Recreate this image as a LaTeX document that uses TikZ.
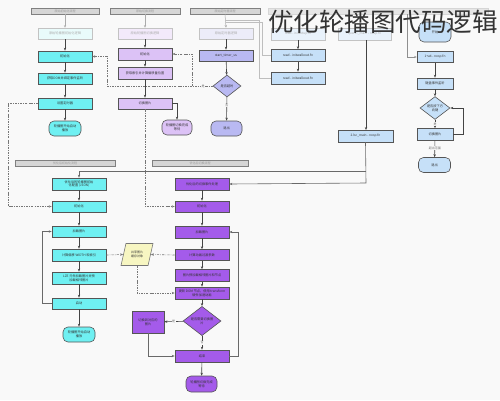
\documentclass[tikz,border=0pt]{standalone}
\usepackage{fontspec}
\setmainfont{Noto Sans CJK SC}
\usetikzlibrary{arrows.meta,shapes.geometric}
\definecolor{bgc}{HTML}{F9F9F9}
\definecolor{bdr}{HTML}{555555}
\definecolor{txt}{HTML}{333333}
\definecolor{lnc}{HTML}{444444}
\definecolor{dshc}{HTML}{777777}
\definecolor{cyanA}{HTML}{6FF0F2}
\definecolor{cyanF}{HTML}{E9FBFB}
\definecolor{purA}{HTML}{DCC2F6}
\definecolor{purF}{HTML}{F3EAFB}
\definecolor{perA}{HTML}{B9B9F2}
\definecolor{perF}{HTML}{ECECF9}
\definecolor{bluA}{HTML}{C6E0F8}
\definecolor{bluF}{HTML}{E9F2FB}
\definecolor{vioA}{HTML}{A45BEA}
\definecolor{yelA}{HTML}{F7F6C2}
\definecolor{hdr}{HTML}{D6D6D6}
\tikzset{
  base/.style={draw=bdr, line width=0.6pt, font=\fontsize{3.2}{3.9}\selectfont, text=txt, align=center, inner sep=0.5pt},
  bx/.style={base, rectangle, minimum width=54pt, minimum height=11pt},
  fd/.style={bx, draw=bdr!35, text=txt!40},
  term/.style={base, rectangle, rounded corners=5pt, minimum width=32pt, minimum height=15pt},
  dia/.style={base, diamond, inner sep=0pt},
  hbar/.style={draw=hdr!60!black, fill=hdr, line width=0.5pt, font=\fontsize{3}{3.5}\selectfont, text=txt!50, inner sep=0pt},
  arr/.style={-{Stealth[length=3pt,width=2.4pt]}, draw=lnc, line width=0.6pt},
  garr/.style={-{Stealth[length=2.6pt,width=2.2pt]}, draw=lnc!45, line width=0.5pt},
  gln/.style={draw=lnc!35, line width=0.5pt},
  dsh/.style={arr, draw=dshc, dash pattern=on 2.2pt off 1.2pt on 0.6pt off 1.2pt},
  lbl/.style={fill=bgc, inner sep=0.4pt, font=\fontsize{3}{3.5}\selectfont, text=txt!70},
}
\begin{document}
\begin{tikzpicture}[x=1pt,y=-1pt]
\useasboundingbox (0,0) rectangle (500,400);
\fill[bgc] (0,0) rectangle (500,400);

% top header bars
\node[hbar, minimum width=68pt, minimum height=6pt] (h1) at (65,11) {原始初始化流程};
\node[hbar, minimum width=70pt, minimum height=6pt] (h2) at (145,11) {原始切换流程};
\node[hbar, minimum width=70pt, minimum height=6pt] (h3) at (225,11) {原始定时器流程};
\node[hbar, minimum width=220pt, minimum height=6pt, fill=hdr!60, draw=hdr] (h4) at (378,11) {};

% ---------- column 1 (upper) ----------
\node[fd, fill=cyanF] (u1a) at (65,33.5) {原始轮播图初始化逻辑};
\node[bx, fill=cyanA] (u1b) at (65,56.5) {初始化};
\node[bx, fill=cyanA] (u1c) at (65,78.5) {获取DOM并绑定事件监听};
\node[bx, fill=cyanA] (u1d) at (65,103.5) {设置定时器};
\node[term, fill=cyanA] (u1e) at (65,128.5) {轮播图开始自动\\播放};
\draw[garr] (h1.south) -- (u1a.north);
\draw[arr] (u1a) -- (u1b);
\draw[arr] (u1b) -- (u1c);
\draw[arr] (u1c) -- (u1d);
\draw[arr] (u1d) -- (u1e);

% ---------- column 2 (upper) ----------
\node[fd, fill=purF] (u2a) at (145,33.5) {原始轮播图切换逻辑};
\node[bx, fill=purA, minimum height=12pt] (u2b) at (145,54) {初始化};
\node[bx, fill=purA, minimum height=12pt] (u2c) at (145,73) {获取索引并计算偏移量位置};
\node[bx, fill=purA] (u2d) at (145,103.5) {切换图片};
\node[term, fill=purA, minimum width=30pt] (u2e) at (177,127.5) {轮播图切换完成\\等待};
\draw[garr] (h2.south) -- (u2a.north);
\draw[arr] (u2a) -- (u2b);
\draw[arr] (u2b) -- (u2c);
\draw[arr] (u2c) -- (u2d);
\draw[arr] (u2d.east) -| (u2e.north);

% ---------- column 3 (upper) ----------
\node[fd, fill=perF] (u3a) at (226,33.5) {原始定时器逻辑};
\node[bx, fill=perA] (u3b) at (226,55.5) {start\_timer\_us};
\node[dia, fill=perA, minimum width=28pt, minimum height=22pt] (u3d) at (227,86) {是否超时};
\node[term, fill=perA, minimum width=31pt] (u3e) at (226.5,128.5) {退出};
\draw[garr] (h3.south) -- (u3a.north);
\draw[arr] (u3a) -- (u3b);
\draw[arr] (u3b) -- (u3d);
\draw[arr] (u3d) -- node[lbl, pos=0.35] {否} (u3e);
\coordinate (j1) at (192,86);
\draw[dsh] (u3d.west) -- (107,86) |- (u1b.east);
\draw[dsh] (j1) |- (u2b.east);
\node[lbl] at (203,86) {是};

% ---------- column 4 (read nodes) ----------
\node[fd, fill=bluF, minimum height=12pt] (u4a) at (298,34) {read - initsetup.fn};
\node[bx, fill=bluA, minimum height=12pt] (u4b) at (298,55.5) {read - initwalkout.fn};
\node[bx, fill=bluA, minimum height=12pt] (u4c) at (298,78) {read - initwalkout.fn};
\draw[arr] (u4a) -- (u4b);
\draw[arr] (u4b) -- (u4c);
\coordinate (g0) at (226,20);
\draw[gln] (g0) -- (259,20) |- (u4c.west);
\draw[gln] (262,22) |- (u4b.west);
\draw[gln] (226,22) -- (262,22);

% ---------- column 6 (main) ----------
\node[fd, fill=bluF, minimum width=53pt, minimum height=12pt] (u6a) at (364.5,34) {quartT\_main - nosp.fn};
\node[bx, fill=bluA, minimum width=55pt, minimum height=12pt] (n6) at (365.5,136) {2.lsc\_main - nosp.fn};
\draw[arr] (366,40) -- (366,130);

% ---------- column 5 (right) ----------
\node[term, fill=bluA, minimum width=32pt, minimum height=20pt] (u5a) at (435,32) {开始};
\node[bx, fill=bluA, minimum width=36pt] (u5b) at (435,57) {1+a4 - nosp.fn};
\node[bx, fill=bluA, minimum width=36pt] (u5c) at (435,83.5) {键盘事件监听};
\node[dia, fill=bluA, minimum width=30pt, minimum height=22pt] (u5d) at (435,108) {是否按下方\\向键};
\node[bx, fill=bluA, minimum width=36pt, minimum height=12pt] (u5e) at (435,134.5) {切换图片};
\node[term, fill=bluA, minimum width=32pt] (u5f) at (434.5,165) {退出};
\draw[gln, -{Stealth[length=2.6pt,width=2.2pt]}, draw=lnc!60] (407,14) |- (u5b.west);
\draw[arr] (u5b) -- (u5c);
\draw[arr] (u5c) -- (u5d);
\draw[arr] (u5d) -- node[lbl] {是} (u5e);
\draw[arr] (u5e) -- node[lbl, pos=0.45] {超出范围} (u5f);
\draw[arr] (u5e.east) -- (463,134.5) |- (u5d.east);

% ---------- middle headers ----------
\node[hbar, minimum width=100pt, minimum height=6pt] (m1) at (65,163) {优化后初始化流程};
\node[hbar, minimum width=96pt, minimum height=6pt] (m2) at (200,163) {优化后切换流程};

% ---------- lower cyan column ----------
\node[bx, fill=cyanA, minimum height=12pt] (l1a) at (79,184) {优化后的轮播图初始\\化配置 (JSON)};
\node[bx, fill=cyanA] (l1b) at (79,206.5) {初始化};
\node[bx, fill=cyanA] (l1c) at (79,231.5) {加载图片};
\node[bx, fill=cyanA, minimum height=12pt] (l1d) at (79,255) {计算偏移 WIDTH 和索引};
\node[bx, fill=cyanA, minimum height=12pt] (l1e) at (79,278) {LZE 元件加载图片并预\\加载相邻图片};
\node[bx, fill=cyanA] (l1f) at (79,303.5) {启动};
\node[term, fill=cyanA] (l1g) at (79,334.5) {轮播图开始自动\\播放};
\draw[arr] (l1a) -- (l1b);
\draw[arr] (l1b) -- (l1c);
\draw[arr] (l1c) -- (l1d);
\draw[arr] (l1d) -- (l1e);
\draw[arr] (l1e) -- (l1f);
\draw[arr] (l1f) -- (l1g);
\draw[arr, draw=lnc!80] (l1f.west) -- (42,303.5) |- (l1c.west);
\draw[dsh] (u1d.west) -- (8,103.5) |- (l1b.west);

% ---------- lower purple column ----------
\node[bx, fill=vioA, minimum height=12pt] (l2a) at (202,184) {优化后的切换事件处理};
\node[bx, fill=vioA] (l2b) at (202,206.5) {初始化};
\node[bx, fill=vioA, minimum height=12pt] (l2c) at (202,232) {加载图片};
\node[bx, fill=vioA] (l2d) at (202,255) {计算动画过渡参数};
\node[bx, fill=vioA, minimum height=12pt] (l2e) at (202,275.5) {图片预加载相邻图片和节点};
\node[bx, fill=vioA, minimum height=12pt] (l2f) at (202,293) {更新 DOM 节点，使用 transform\\硬件加速动画};
\node[dia, fill=vioA, minimum width=38pt, minimum height=24pt] (l2g) at (202,321) {是否需要切换图\\片};
\node[base, rectangle, fill=vioA, minimum width=32pt, minimum height=22pt] (l2h) at (148,322) {切换到对应的\\图片};
\node[bx, fill=vioA, minimum height=12pt] (l2i) at (202,356) {结束};
\node[term, fill=vioA, minimum width=31pt, minimum height=16pt] (l2j) at (201.5,384) {轮播图切换完成\\等待};
\draw[arr] (l2a) -- (l2b);
\draw[arr] (l2b) -- (l2c);
\draw[arr] (l2c) -- (l2d);
\draw[arr] (l2d) -- (l2e);
\draw[arr] (l2e) -- (l2f);
\draw[arr] (l2f) -- (l2g);
\draw[arr] (l2g) -- node[lbl] {是} (l2h);
\draw[arr] (l2g) -- node[lbl] {否} (l2i);
\draw[arr, draw=lnc!80] (l2h.south) |- (l2i.west);
\draw[arr, draw=lnc!80] (l2i.east) -- (238,356) |- (l2c.east);
\draw[arr] (l2i) -- (l2j);
\draw[dsh] (u2d.south) |- (l2b.west);

% main line from n6
\draw[arr, draw=lnc!80] (n6.south) -- (366,183) -- (l2a.east);
\draw[arr, draw=lnc!80] (366,171) -| (l1a.north);

% ---------- parallelogram ----------
\node[base, trapezium, trapezium left angle=70, trapezium right angle=110, trapezium stretches=true, fill=yelA, draw=bdr!80, minimum width=32pt, minimum height=22pt, inner xsep=0pt, font=\fontsize{3}{3.6}\selectfont] (pa) at (137,254.5) {共享图片\\缓存对象};
\draw[dsh] (l1d.east) -- (pa.west);
\draw[dsh] (l2d.west) -- (pa.east);
\draw[dsh] (pa.south) |- (l2f.west);

% ---------- title ----------
\node[anchor=base east, inner sep=0pt, font=\fontsize{25.5}{26}\selectfont, text=txt] (title) at (498,31) {优化轮播图代码逻辑};
\end{tikzpicture}
\end{document}
